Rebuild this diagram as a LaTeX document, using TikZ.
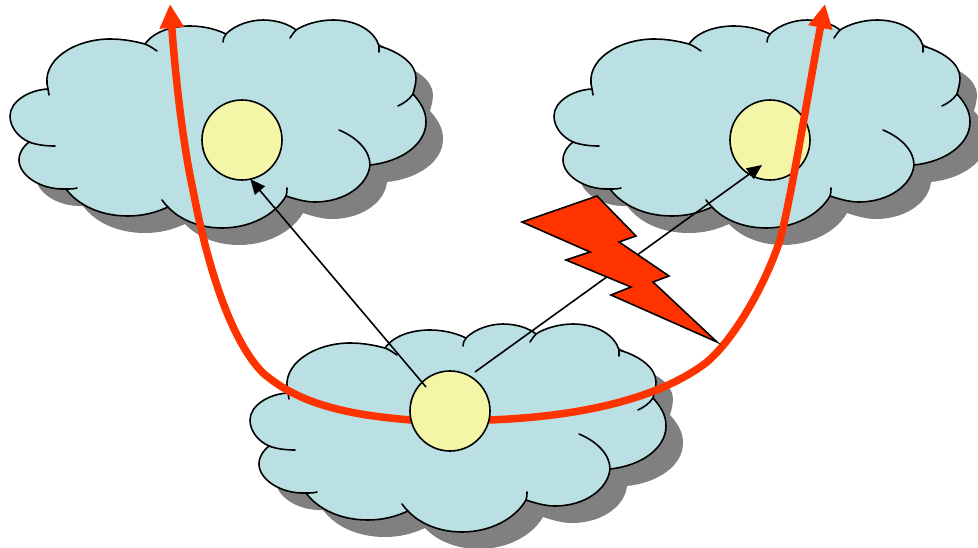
\documentclass[tikz,border=0pt]{standalone}
\usetikzlibrary{arrows.meta}
\definecolor{cloudblue}{HTML}{BAE0E3}
\definecolor{dotyellow}{HTML}{F5F5A8}
\definecolor{boltred}{HTML}{FF3300}
\definecolor{shadowgray}{HTML}{808080}
\pgfdeclarelayer{back}
\pgfdeclarelayer{mid}
\pgfsetlayers{back,mid,main}
\newcommand{\cloudoutline}{(48,89)
  .. controls (40,60) and (75,39) .. (110,39)
  .. controls (125,39) and (137,42) .. (145,44)
  .. controls (155,30) and (175,26) .. (190,26)
  .. controls (205,26) and (218,30) .. (226,34)
  .. controls (235,25) and (250,20) .. (263,20)
  .. controls (278,20) and (290,25) .. (296,30)
  .. controls (305,24) and (320,20) .. (333,20)
  .. controls (358,20) and (375,32) .. (379,46)
  .. controls (400,52) and (416,64) .. (416,78)
  .. controls (416,84) and (414,90) .. (413,94)
  .. controls (421,103) and (426,111) .. (426,122)
  .. controls (426,145) and (400,162) .. (370,165)
  .. controls (368,185) and (345,202) .. (315,202)
  .. controls (305,202) and (295,199) .. (286,196)
  .. controls (275,215) and (250,228) .. (222,228)
  .. controls (200,228) and (180,220) .. (168,207)
  .. controls (155,213) and (142,216) .. (128,216)
  .. controls (100,216) and (78,205) .. (66,189)
  .. controls (40,190) and (19,175) .. (19,160)
  .. controls (19,152) and (24,146) .. (29,142)
  .. controls (18,137) and (10,127) .. (10,116)
  .. controls (10,102) and (28,90) .. (48,89) -- cycle}
\tikzset{
  x=1pt,y=-1pt,
  line join=round,
  cloudline/.style={draw=black,line width=1.6pt,line cap=round},
  dotnode/.style={circle,draw=black,line width=1.6pt,fill=dotyellow,minimum size=80pt,inner sep=0pt,outer sep=0pt},
  redarrow/.style={draw=boltred,line width=7.5pt,-{Triangle[length=24pt,width=23pt,fill=boltred]}},
  blackarrow/.style={draw=black,line width=1.6pt,-{Triangle[length=15pt,width=13pt,fill=black]}},
  boltshape/.style={draw=black,line width=1.6pt,fill=boltred,line join=miter},
  cloudshape/.pic={
    \path[fill=shadowgray,shift={(17,17)}] \cloudoutline;
    \path[fill=cloudblue,cloudline] \cloudoutline;
    \draw[cloudline] (49,95) -- (48,89);
    \draw[cloudline] (145,44) .. controls (150,46) and (154,49) .. (157,51);
    \draw[cloudline] (226,34) .. controls (224,37) and (223,39) .. (223,42);
    \draw[cloudline] (296,30) .. controls (294,32) and (292,35) .. (290,38);
    \draw[cloudline] (379,46) -- (379,52);
    \draw[cloudline] (413,94) .. controls (409,100) and (404,103) .. (398,106);
    \draw[cloudline] (370,165) .. controls (370,150) and (356,137) .. (339,130);
    \draw[cloudline] (286,196) .. controls (287,193) and (287,191) .. (287,188);
    \draw[cloudline] (168,207) .. controls (166,205) and (164,203) .. (162,200);
    \draw[cloudline] (66,189) .. controls (70,189) and (74,189) .. (77,188);
    \draw[cloudline] (29,142) .. controls (37,145) and (46,146) .. (55,146);
  }
}
\begin{document}
\begin{tikzpicture}
\useasboundingbox (0,0) rectangle (978,548);
\begin{pgfonlayer}{back}
  \pic at (0,0) {cloudshape};
  \pic at (544,0) {cloudshape};
  \pic at (240,304) {cloudshape};
  \node[dotnode] (c1) at (242,140) {};
  \node[dotnode] (c2) at (770,140) {};
\end{pgfonlayer}
\node[dotnode] (c3) at (450,411) {};
\coordinate (lefttop) at (170,4);
\coordinate (righttop) at (825,4);
\coordinate (leftstart) at (426,387);
\coordinate (rightstart) at (475,372);
\coordinate (righttip) at (762,165);
\begin{pgfonlayer}{mid}
  \draw[redarrow] (c3.193) .. controls (350,415) and (300,405) .. (263,373)
     .. controls (232,342) and (208,270) .. (193,190)
     .. controls (182,140) and (175,70) .. (lefttop);
  \draw[redarrow] (c3.-13) .. controls (570,417) and (655,402) .. (707,362)
     .. controls (735,338) and (765,285) .. (780,240)
     .. controls (792,195) and (811,75) .. (righttop);
\end{pgfonlayer}
\draw[blackarrow] (leftstart) -- (c1.-78);
\draw[blackarrow] (rightstart) -- (righttip);
\path[boltshape] (522,222) -- (597,196) -- (636,236) -- (619,242) -- (669,276) -- (653,282) -- (717,342) -- (611,295) -- (631,287) -- (566,260) -- (590,252) -- cycle;
\end{tikzpicture}
\end{document}
